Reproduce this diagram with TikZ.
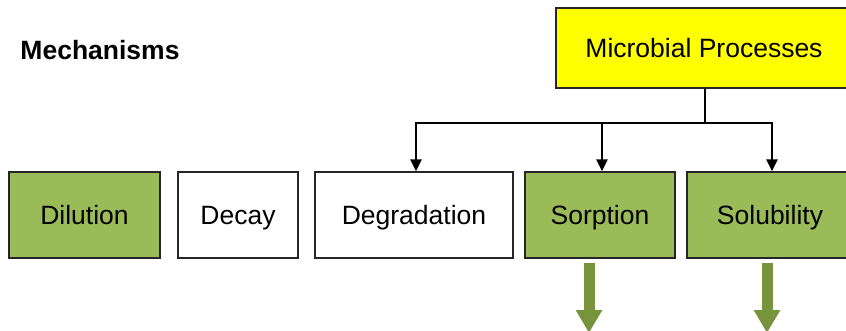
\documentclass[tikz,border=0pt]{standalone}
\usepackage{fontspec}
\setmainfont{Liberation Sans}
\usetikzlibrary{arrows.meta,positioning}
\definecolor{Mech}{HTML}{9BBB59}
\definecolor{MechDark}{HTML}{77933C}
\definecolor{Microbe}{HTML}{FFFF00}

\begin{document}
\begin{tikzpicture}[x=1pt,y=-1pt,font=\fontsize{26.5}{30}\selectfont,>={Triangle[width=11pt,length=12pt]}]
  \tikzset{mechbox/.style={draw=black!85,line width=1.3pt,minimum height=86pt,inner sep=0pt,text height=19pt,text depth=0pt},
           feed/.style={line width=2.6pt,->},
           outflow/.style={MechDark,line width=11pt,-{Triangle[width=25pt,length=23pt]}}}
  \clip (0,0) rectangle (846,331);
  \fill[white] (0,0) rectangle (846,331);
  \node[font=\fontsize{26.5}{30}\selectfont\bfseries] (mech) at (100,50) {Mechanisms};
  \node[mechbox,fill=Microbe,minimum width=296pt,minimum height=80pt] (mic) at (704,48) {Microbial Processes};
  % mechanism row
  \node[mechbox,fill=Mech,minimum width=151pt] (dil) at (84.5,215) {Dilution};
  \node[mechbox,minimum width=120pt] (dec) at (238,215) {Decay};
  \node[mechbox,minimum width=198pt] (deg) at (414,215) {Degradation};
  \node[mechbox,fill=Mech,minimum width=150pt] (sor) at (600,215) {Sorption};
  \node[mechbox,fill=Mech,minimum width=166pt] (sol) at (770,215) {Solubility};
  % links from microbial processes
  \coordinate (split) at (705,123);
  \coordinate (left) at (416,123);
  \coordinate (right) at (772,123);
  \draw[line width=2.6pt] (mic.south -| split) -- (split);
  \draw[line width=2.6pt,line join=miter] (deg.north -| left) ++(0,-10) -- (left) -- (right) -- ++(0,10);
  \draw[feed] (left) -- (deg.north -| left);
  \draw[feed] (602,123) -- (sor.north -| 602,0);
  \draw[feed] (right) -- (sol.north -| right);
  % green outflows
  \coordinate (sorout) at (589,333);
  \coordinate (solout) at (767,333);
  \draw[outflow] ([yshift=-4pt]sorout |- sor.south) -- (sorout);
  \draw[outflow] ([yshift=-4pt]solout |- sol.south) -- (solout);
\end{tikzpicture}
\end{document}
